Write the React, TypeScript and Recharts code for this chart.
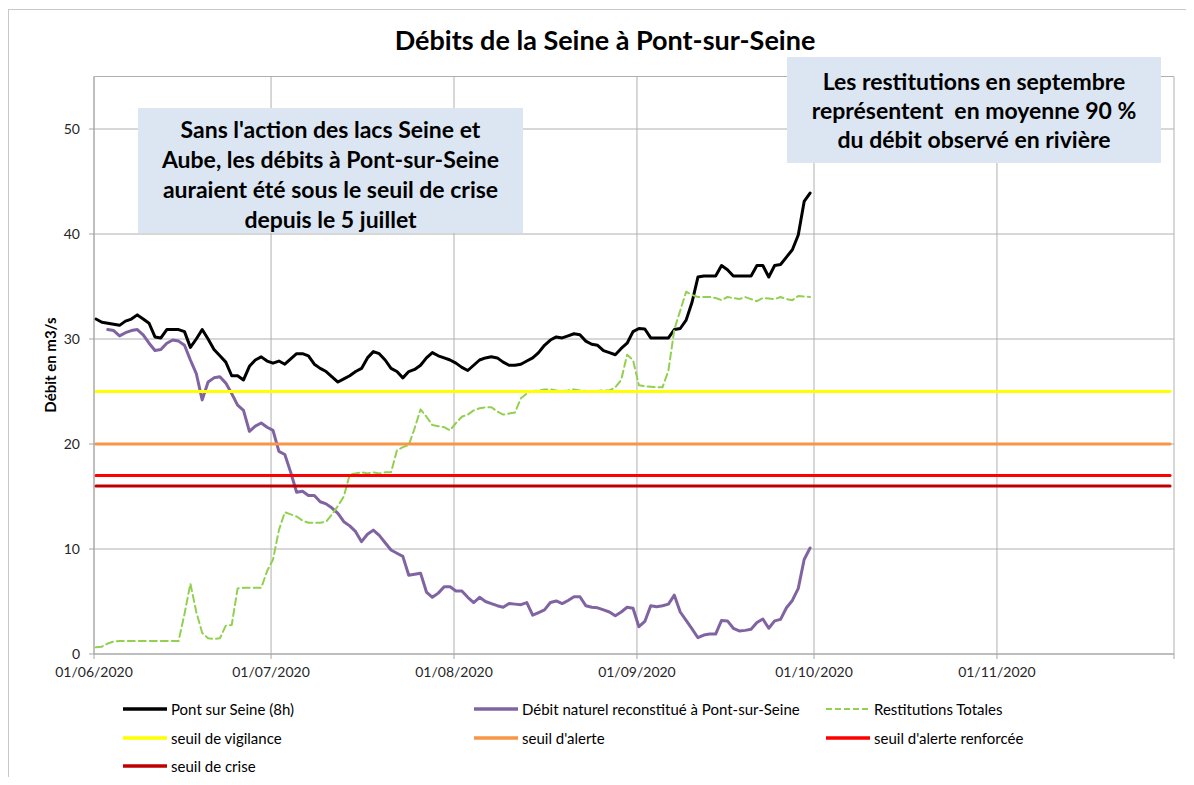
import React from 'react';
import { LineChart, Line, XAxis, YAxis, CartesianGrid, Legend } from 'recharts';

// ---------- DATA ----------
const monthTickDays = [0, 30, 61, 92, 122, 153, 183];
const monthTickLabels = ['01/06/2020', '01/07/2020', '01/08/2020', '01/09/2020', '01/10/2020', '01/11/2020', ''];
const yTicks = [0, 10, 20, 30, 40, 50];
const measureHour = 8;

// Pont sur Seine (8h) — daily values from 01/06/2020
const pontStartDay = 0;
const pontValues = [
  31.9, 31.6, 31.5, 31.4, 31.3, 31.7, 31.9, 32.3, 31.9, 31.5,
  30.2, 30.1, 30.9, 30.9, 30.9, 30.7, 29.2, 30.0, 30.9, 30.0,
  29.0, 28.4, 27.8, 26.5, 26.5, 26.1, 27.4, 28.0, 28.3, 27.9,
  27.7, 27.9, 27.6, 28.1, 28.6, 28.6, 28.4, 27.6, 27.2, 26.9,
  26.4, 25.9, 26.2, 26.5, 26.9, 27.2, 28.2, 28.8, 28.6, 28.0,
  27.2, 26.9, 26.3, 26.9, 27.1, 27.5, 28.2, 28.7, 28.4, 28.2,
  28.0, 27.7, 27.3, 27.0, 27.5, 28.0, 28.2, 28.3, 28.2, 27.8,
  27.5, 27.5, 27.6, 27.9, 28.2, 28.7, 29.4, 29.9, 30.2, 30.1,
  30.3, 30.5, 30.4, 29.8, 29.5, 29.4, 28.9, 28.7, 28.5, 29.1,
  29.6, 30.7, 31.0, 30.95, 30.1, 30.1, 30.1, 30.1, 30.9, 31.0,
  31.8, 33.5, 35.9, 36.0, 36.0, 36.0, 37.0, 36.6, 36.0, 36.0,
  36.0, 36.0, 37.0, 37.0, 35.9, 37.0, 37.1, 37.8, 38.5, 39.9,
  43.1, 43.9,
];

// Débit naturel reconstitué à Pont-sur-Seine — daily values from 03/06/2020
const naturelStartDay = 2;
const naturelValues = [
  30.9, 30.8, 30.3, 30.6, 30.8, 30.9, 30.4, 29.6, 28.9, 29.0,
  29.6, 29.9, 29.8, 29.4, 28.0, 26.7, 24.2, 25.9, 26.3, 26.4,
  25.8, 24.8, 23.7, 23.2, 21.2, 21.7, 22.0, 21.6, 21.3, 19.3,
  19.0, 17.3, 15.4, 15.5, 15.1, 15.1, 14.5, 14.3, 13.9, 13.4,
  12.6, 12.2, 11.65, 10.7, 11.4, 11.8, 11.3, 10.6, 9.9, 9.6,
  9.3, 7.5, 7.6, 7.7, 5.9, 5.4, 5.8, 6.4, 6.4, 6.0,
  6.0, 5.4, 4.9, 5.4, 5.0, 4.8, 4.6, 4.45, 4.8, 4.75,
  4.7, 4.9, 3.7, 3.95, 4.2, 4.9, 5.05, 4.8, 5.1, 5.45,
  5.45, 4.6, 4.45, 4.4, 4.2, 4.0, 3.65, 4.0, 4.45, 4.35,
  2.6, 3.1, 4.6, 4.5, 4.6, 4.75, 5.6, 4.0, 3.2, 2.4,
  1.55, 1.8, 1.9, 1.9, 3.2, 3.15, 2.45, 2.2, 2.25, 2.35,
  3.0, 3.33, 2.45, 3.15, 3.3, 4.4, 5.1, 6.25, 9.0, 10.1,
];

// Restitutions Totales — daily values from 01/06/2020
const restitStartDay = 0;
const restitValues = [
  0.64, 0.7, 1.0, 1.2, 1.24, 1.24, 1.24, 1.24, 1.24, 1.24,
  1.24, 1.24, 1.24, 1.24, 1.24, 3.8, 6.7, 4.0, 2.0, 1.5,
  1.43, 1.5, 2.7, 2.76, 6.25, 6.3, 6.3, 6.3, 6.3, 7.9,
  9.0, 11.8, 13.5, 13.3, 13.1, 12.7, 12.5, 12.5, 12.5, 12.6,
  13.3, 14.1, 15.0, 17.1, 17.2, 17.3, 17.2, 17.3, 17.2, 17.3,
  17.3, 19.4, 19.7, 19.9, 21.5, 23.3, 22.6, 21.8, 21.7, 21.6,
  21.3, 22.0, 22.6, 22.8, 23.2, 23.4, 23.5, 23.5, 23.1, 22.8,
  22.9, 23.0, 24.35, 24.8, 25.05, 25.1, 25.2, 25.2, 25.1, 25.05,
  25.1, 25.2, 25.1, 25.05, 25.05, 25.05, 25.1, 25.1, 25.4, 26.1,
  28.5, 28.0, 25.6, 25.5, 25.45, 25.4, 25.4, 27.0, 30.9, 32.7,
  34.5, 34.2, 34.0, 34.0, 34.0, 33.9, 33.7, 34.0, 33.9, 33.8,
  34.0, 33.8, 33.6, 33.9, 33.85, 33.8, 34.0, 33.8, 33.7, 34.1,
  34.05, 34.0,
];

// Thresholds (constant over the period)
const thresholdDays = [0, 182];
const seuilVigilance = 25;
const seuilAlerte = 20;
const seuilAlerteRenforcee = 17;
const seuilCrise = 16;

// ---------- TABLES ----------
type Pt = { t: number; v: number };
const seriesPoints = (start: number, values: number[]): Pt[] =>
  values.map((v, i) => ({ t: start + i + measureHour / 24, v }));
const constPoints = (value: number): Pt[] =>
  thresholdDays.map((d) => ({ t: d + measureHour / 24, v: value }));

const pontData = seriesPoints(pontStartDay, pontValues);
const naturelData = seriesPoints(naturelStartDay, naturelValues);
const restitData = seriesPoints(restitStartDay, restitValues);

const FONT = 'Lato, "Open Sans", sans-serif';

const series = [
  { name: 'Pont sur Seine (8h)', data: pontData, color: '#000000', width: 3, dash: undefined as string | undefined },
  { name: 'Débit naturel reconstitué à Pont-sur-Seine', data: naturelData, color: '#8064A2', width: 3, dash: undefined },
  { name: 'Restitutions Totales', data: restitData, color: '#92D050', width: 2, dash: '7 4' },
  { name: 'seuil de vigilance', data: constPoints(seuilVigilance), color: '#FFFF00', width: 3, dash: undefined },
  { name: "seuil d'alerte", data: constPoints(seuilAlerte), color: '#F79646', width: 3, dash: undefined },
  { name: "seuil d'alerte renforcée", data: constPoints(seuilAlerteRenforcee), color: '#FF0000', width: 3, dash: undefined },
  { name: 'seuil de crise', data: constPoints(seuilCrise), color: '#C00000', width: 3, dash: undefined },
];

const legendColX = [115, 466, 818];
const legendRowY = [21, 50, 78];

const renderLegend = (props: any) => {
  const payload: any[] = props.payload || [];
  const ordered = series.map((s) => payload.find((p) => p.value === s.name)).filter(Boolean);
  return (
    <div style={{ position: 'relative', width: 1186, height: 95, fontFamily: FONT }}>
      {ordered.map((entry: any, i: number) => {
        const s = series.find((x) => x.name === entry.value)!;
        const col = i % 3;
        const row = Math.floor(i / 3);
        return (
          <div
            key={entry.value}
            style={{
              position: 'absolute',
              left: legendColX[col],
              top: legendRowY[row] - 10,
              height: 20,
              display: 'flex',
              alignItems: 'center',
              whiteSpace: 'nowrap',
              fontSize: 15,
              color: '#000',
            }}
          >
            <svg width={44} height={6} style={{ marginRight: 4 }}>
              <line x1={0} y1={3} x2={44} y2={3} stroke={entry.color} strokeWidth={s.dash ? 2 : 3.5} strokeDasharray={s.dash ? '6 3' : undefined} />
            </svg>
            <span>{entry.value}</span>
          </div>
        );
      })}
    </div>
  );
};

const boxStyle: React.CSSProperties = {
  position: 'absolute',
  background: '#DCE6F2',
  fontFamily: FONT,
  fontWeight: 700,
  fontSize: 23,
  textAlign: 'center',
  color: '#000',
  boxSizing: 'border-box',
  whiteSpace: 'nowrap',
};

export default function App() {
  return (
    <div style={{ position: 'relative', width: 1186, height: 769 }}>
      <div
        style={{
          position: 'absolute',
          left: 0,
          top: 1,
          width: 1186,
          height: 768,
          borderLeft: '1px solid #c8c8c8',
          borderTop: '1px solid #c8c8c8',
          boxSizing: 'border-box',
        }}
      />
      <LineChart
        width={1186}
        height={769}
        margin={{ top: 68.5, right: 20, bottom: 93, left: 46 }}
        style={{ position: 'absolute', left: 0, top: 0 }}
      >
        <CartesianGrid stroke="#b0b0b0" strokeWidth={1} />
        <XAxis
          dataKey="t"
          type="number"
          domain={[0, 183]}
          ticks={monthTickDays}
          tickFormatter={(d: number) => monthTickLabels[monthTickDays.indexOf(d)] ?? ''}
          allowDataOverflow
          interval={0}
          height={30}
          stroke="#a6a6a6"
          tickSize={5}
          tickMargin={8}
          tick={{ fill: '#262626', fontSize: 14, fontFamily: FONT }}
        />
        <YAxis
          type="number"
          domain={[0, 55]}
          ticks={yTicks}
          interval={0}
          width={40}
          stroke="#a6a6a6"
          tickSize={5}
          tickMargin={9}
          tick={{ fill: '#262626', fontSize: 14, fontFamily: FONT }}
        />
        {series.map((s) => (
          <Line
            key={s.name}
            name={s.name}
            data={s.data}
            dataKey="v"
            type="linear"
            stroke={s.color}
            strokeWidth={s.width}
            strokeDasharray={s.dash}
            strokeLinejoin="round"
            strokeLinecap="round"
            dot={false}
            activeDot={false}
            isAnimationActive={false}
          />
        ))}
        <Legend
          layout="vertical"
          align="center"
          verticalAlign="middle"
          content={renderLegend}
          wrapperStyle={{ position: 'absolute', left: 0, top: 680, width: 1186, height: 95 }}
        />
      </LineChart>

      <div
        style={{
          position: 'absolute',
          left: 247,
          top: 16,
          width: 700,
          height: 32,
          lineHeight: '32px',
          textAlign: 'center',
          fontFamily: FONT,
          fontWeight: 700,
          fontSize: 27,
          color: '#000',
        }}
      >
        Débits de la Seine à Pont-sur-Seine
      </div>

      <div style={{ ...boxStyle, left: 130, top: 100, width: 385, height: 125, paddingTop: 6, lineHeight: '30px' }}>
        Sans l'action des lacs Seine et
        <br />
        Aube, les débits à Pont-sur-Seine
        <br />
        auraient été sous le seuil de crise
        <br />
        depuis le 5 juillet
      </div>

      <div style={{ ...boxStyle, left: 779, top: 49, width: 374, height: 106, paddingTop: 10, lineHeight: '29px' }}>
        Les restitutions en septembre
        <br />
        représentent&nbsp; en moyenne 90 %
        <br />
        du débit observé en rivière
      </div>

      <div
        style={{
          position: 'absolute',
          left: 42 - 70,
          top: 357 - 9,
          width: 140,
          height: 18,
          lineHeight: '18px',
          textAlign: 'center',
          transform: 'rotate(-90deg)',
          fontFamily: FONT,
          fontWeight: 700,
          fontSize: 15,
          color: '#000',
        }}
      >
        Débit en m3/s
      </div>
    </div>
  );
}
